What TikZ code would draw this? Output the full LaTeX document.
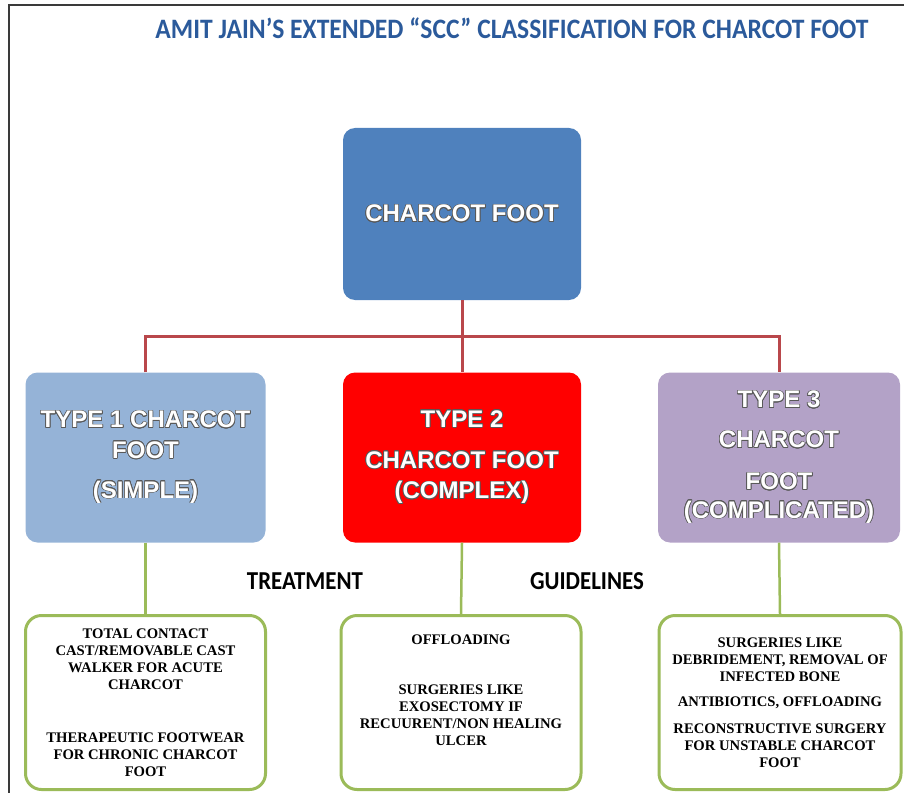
\documentclass[tikz,border=0pt]{standalone}
\usepackage{fontspec}
\setmainfont{Liberation Serif}
\newfontfamily\arialfont{Liberation Sans}
\newfontfamily\calfont{Carlito}
\usepackage{contour}
\contourlength{0.6pt}
\usetikzlibrary{calc,positioning}
\definecolor{azulcab}{HTML}{4F81BD}
\definecolor{azulclaro}{HTML}{95B3D7}
\definecolor{rojo}{HTML}{FF0000}
\definecolor{lila}{HTML}{B3A2C7}
\definecolor{rojolinea}{HTML}{B9474B}
\definecolor{verde}{HTML}{9BBB59}
\definecolor{titulo}{HTML}{2B5A9B}
\definecolor{marco}{HTML}{3A3A3A}
\newlength\px
\setlength\px{0.03cm}
\newcommand\sombra[1]{\contour{black!65}{#1}}

\begin{document}
\begin{tikzpicture}[x=0.03cm,y=-0.03cm,line cap=round,
  tipo/.style={rounded corners=12\px,minimum width=240\px,minimum height=170\px,
    align=center,text=white,inner sep=0pt,
    font=\arialfont\bfseries\fontsize{20.5}{24}\selectfont},
  guia/.style={draw=verde,line width=3\px,fill=white,rounded corners=16\px,
    minimum width=240\px,minimum height=174\px,align=center,inner sep=0pt,
    font=\bfseries\fontsize{12.5}{14.5}\selectfont},
  rotulo/.style={font=\calfont\bfseries\fontsize{21}{25}\selectfont},
  ramaroja/.style={rojolinea,line width=3\px,line cap=butt},
  ramaverde/.style={verde,line width=2.5\px,line cap=butt}]
  \useasboundingbox (0,0) rectangle (904,793);
  % --- marco y titulo ---
  \draw[marco,line width=1.5\px] (9,800) -- (9,5) -- (904,5);
  \node[rotulo,text=titulo,font=\calfont\bfseries\fontsize{24}{28}\selectfont] (titulo) at (512,28)
    {\scalebox{0.91}[1]{AMIT JAIN’S EXTENDED “SCC” CLASSIFICATION FOR CHARCOT FOOT}};
  % --- cajas de tipos ---
  \node[tipo,fill=azulcab,minimum width=238\px,minimum height=172\px] (charcot) at (462,214)
    {\sombra{CHARCOT FOOT}};
  \node[tipo,fill=azulclaro] (tipo1) at (145.5,457.5)
    {\sombra{TYPE 1 CHARCOT}\\[2pt]\sombra{FOOT}\\[10pt]\sombra{(SIMPLE)}};
  \node[tipo,fill=rojo,minimum width=238\px] (tipo2) at (462,457.5)
    {\sombra{TYPE 2}\\[11pt]\sombra{CHARCOT FOOT}\\[2pt]\sombra{(COMPLEX)}};
  \node[tipo,fill=lila,minimum width=242\px] (tipo3) at (779,457.5)
    {\sombra{TYPE 3}\\[10pt]\sombra{CHARCOT}\\[12pt]\sombra{FOOT}\\\sombra{(COMPLICATED)}};
  % --- rotulos del medio ---
  \node[rotulo] (trat) at (305,581) {\scalebox{0.93}[1.05]{TREATMENT}};
  \node[rotulo] (guias) at (587,581) {\scalebox{0.93}[1.05]{GUIDELINES}};
  % --- cajas de tratamiento ---
  \node[guia] (guia1) at (145.5,702.5)
    {TOTAL CONTACT\\CAST/REMOVABLE CAST\\WALKER FOR ACUTE\\CHARCOT\\[31pt]
     THERAPEUTIC FOOTWEAR\\FOR CHRONIC CHARCOT\\FOOT};
  \node[guia] (guia2) at (461,702.5)
    {OFFLOADING\\[28pt]SURGERIES LIKE\\EXOSECTOMY IF\\RECUURENT/NON HEALING\\ULCER\\[6pt]~};
  \node[guia,minimum width=242\px] (guia3) at (780,702.5)
    {SURGERIES LIKE\\DEBRIDEMENT, REMOVAL OF\\INFECTED BONE\\[7pt]
     ANTIBIOTICS, OFFLOADING\\[8pt]RECONSTRUCTIVE SURGERY\\FOR UNSTABLE CHARCOT\\FOOT};
  % --- conectores ---
  \draw[ramaroja] (charcot.south) -- (tipo2.north);
  \draw[ramaroja] (tipo1.north) -- ++(0,-36) -| (tipo3.north);
  \draw[ramaverde] (tipo1.south) -- (guia1.north);
  \draw[ramaverde] (tipo2.south) -- (guia2.north);
  \draw[ramaverde] (tipo3.south) -- (guia3.north);
\end{tikzpicture}
\end{document}
